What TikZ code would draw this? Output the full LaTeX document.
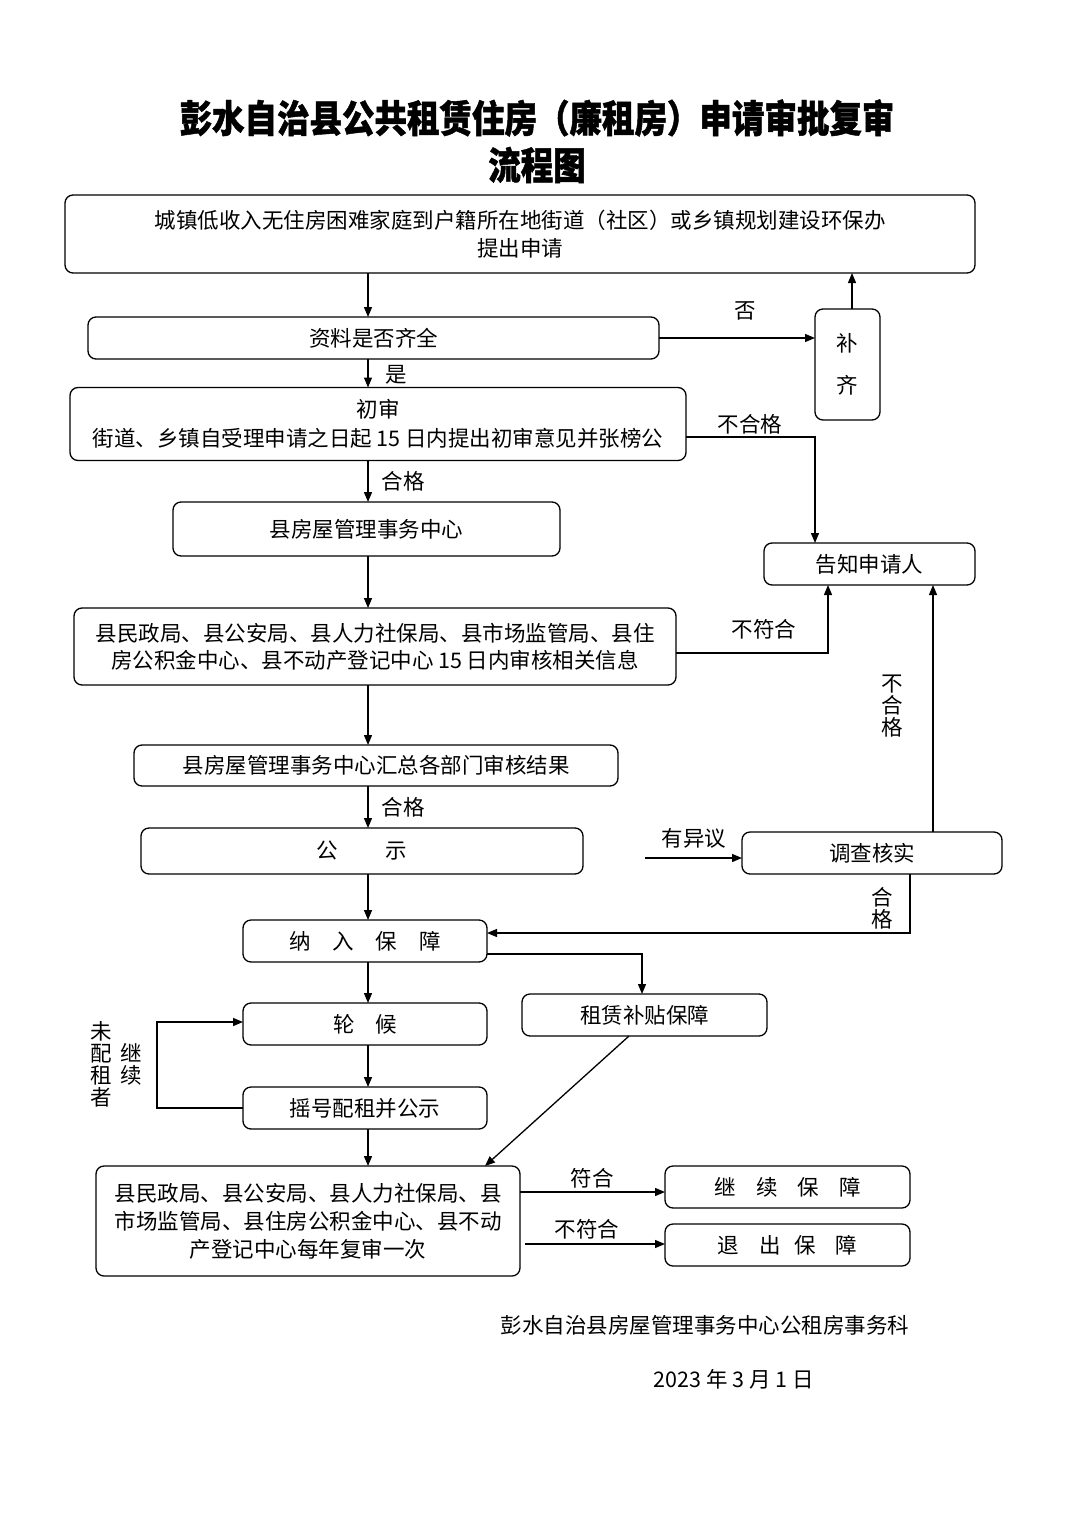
\documentclass[tikz,border=0pt]{standalone}
\usepackage{fontspec}
\setmainfont{Noto Sans CJK SC}
\newfontfamily\titlefont[FakeStretch=0.855,BoldFeatures={FakeBold=1.2}]{Noto Sans CJK SC}
\usetikzlibrary{arrows.meta}
\begin{document}
\begin{tikzpicture}[x=1pt,y=-1pt,
  every node/.style={inner sep=0pt, outer sep=0pt, font=\fontsize{21.5}{28}\selectfont},
  box/.style={draw, line width=1.3pt, rounded corners=8pt, align=center},
  arr/.style={line width=1.3pt, -{Triangle[length=10pt,width=8pt]}},
  ln/.style={line width=1.3pt},
  lbl/.style={align=center, font=\fontsize{21.5}{22}\selectfont},
  ttl/.style={font=\titlefont\bfseries\fontsize{38}{40}\selectfont}]
\useasboundingbox (0,0) rectangle (1074,1520);
\fill[white] (0,0) rectangle (1074,1520);
\coordinate (vx) at (368,0);
% title
\node[ttl] (t1) at (537,118) {彭水自治县公共租赁住房（廉租房）申请审批复审};
\node[ttl] (t2) at (537,165) {流程图};
% boxes
\node[box, minimum width=910pt, minimum height=78pt] (b1) at (520,234) {城镇低收入无住房困难家庭到户籍所在地街道（社区）或乡镇规划建设环保办\\提出申请};
\node[box, minimum width=571pt, minimum height=42pt] (b2) at (373.5,338) {资料是否齐全};
\node[box, minimum width=65pt, minimum height=111pt, font=\fontsize{21.5}{42}\selectfont] (bq) at (847.5,364.5) {补\\齐};
\node[box, minimum width=616pt, minimum height=73pt, font=\fontsize{21.5}{29}\selectfont] (b3) at (378,424) {初审\\街道、乡镇自受理申请之日起 15 日内提出初审意见并张榜公};
\node[box, minimum width=387pt, minimum height=54pt] (b4) at (366.5,529) {县房屋管理事务中心};
\node[box, minimum width=211pt, minimum height=42pt] (gz) at (869.5,564) {告知申请人};
\node[box, minimum width=602pt, minimum height=77pt, font=\fontsize{21.5}{27}\selectfont] (b5) at (375,646.5) {县民政局、县公安局、县人力社保局、县市场监管局、县住\\房公积金中心、县不动产登记中心 15 日内审核相关信息};
\node[box, minimum width=484pt, minimum height=41pt] (b6) at (376,765.5) {县房屋管理事务中心汇总各部门审核结果};
\node[box, minimum width=442pt, minimum height=46pt] (b7) at (362,851) {公\hspace{48pt}示};
\node[box, minimum width=260pt, minimum height=42pt] (dc) at (872,853) {调查核实};
\node[box, minimum width=244pt, minimum height=42pt] (b8) at (365,941) {纳\hspace{22pt}入\hspace{22pt}保\hspace{22pt}障};
\node[box, minimum width=244pt, minimum height=42pt] (lh) at (365,1024) {轮\hspace{21pt}候};
\node[box, minimum width=245pt, minimum height=42pt] (zl) at (644.5,1015) {租赁补贴保障};
\node[box, minimum width=244pt, minimum height=42pt] (yh) at (365,1108) {摇号配租并公示};
\node[box, minimum width=424pt, minimum height=110pt] (b9) at (308,1221) {县民政局、县公安局、县人力社保局、县\\市场监管局、县住房公积金中心、县不动\\产登记中心每年复审一次};
\node[box, minimum width=245pt, minimum height=42pt] (jx) at (787.5,1187) {继\hspace{21pt}续\hspace{19pt}保\hspace{21pt}障};
\node[box, minimum width=245pt, minimum height=42pt] (tc) at (787.5,1245) {退\hspace{20pt}出\hspace{14pt}保\hspace{20pt}障};
% connectors
\draw[arr] (b1.south -| vx) -- (b2.north -| vx);
\draw[arr] (b2.east) -- (bq.west |- b2.east);
\draw[arr] (bq.north -| 852,0) -- (b1.south -| 852,0);
\draw[arr] (b2.south -| vx) -- (b3.north -| vx);
\draw[arr] (b3.east |- 0,437) -| (gz.north -| 815,0);
\draw[arr] (b3.south -| vx) -- (b4.north -| vx);
\draw[arr] (b4.south -| vx) -- (b5.north -| vx);
\draw[arr] (b5.east |- 0,653) -| (gz.south -| 828,0);
\draw[arr] (b5.south -| vx) -- (b6.north -| vx);
\draw[arr] (b6.south -| vx) -- (b7.north -| vx);
\coordinate (yy) at (645,858);
\draw[arr] (yy) -- (dc.west |- yy);
\draw[arr] (dc.north -| 933,0) -- (gz.south -| 933,0);
\draw[arr] (dc.south -| 910,0) |- (b8.east |- 0,933);
\draw[arr] (b7.south -| vx) -- (b8.north -| vx);
\draw[arr] (b8.east |- 0,954) -| (zl.north -| 642,0);
\draw[arr] (b8.south -| vx) -- (lh.north -| vx);
\draw[arr] (lh.south -| vx) -- (yh.north -| vx);
\draw[arr] (yh.west) -- ++(-86,0) |- (lh.west |- 0,1022);
\draw[arr] (yh.south -| vx) -- (b9.north -| vx);
\draw[arr] (zl.south -| 629,0) -- (b9.north -| 485,0);
\draw[arr] (b9.east |- 0,1192) -- (jx.west |- 0,1192);
\draw[arr] ([xshift=5pt]b9.east |- 0,1244) -- (tc.west |- 0,1244);
% labels
\node[lbl] (l1) at (745,311) {否};
\node[lbl] (l2) at (396,375) {是};
\node[lbl] (l3) at (750,424) {不合格};
\node[lbl] (l4) at (403,481) {合格};
\node[lbl] (l5) at (764,629) {不符合};
\node[lbl] (l6) at (892,706) {不\\合\\格};
\node[lbl] (l7) at (403,807) {合格};
\node[lbl] (l8) at (694,838) {有异议};
\node[lbl] (l9) at (882,908) {合\\格};
\node[lbl] (l10) at (101,1064) {未\\配\\租\\者};
\node[lbl] (l11) at (131,1064) {继\\续};
\node[lbl] (l12) at (592,1178) {符合};
\node[lbl] (l13) at (587,1229) {不符合};
% footer
\node (f1) at (705,1325) {彭水自治县房屋管理事务中心公租房事务科};
\node (f2) at (734,1379) {2023 年 3 月 1 日};
\end{tikzpicture}
\end{document}
